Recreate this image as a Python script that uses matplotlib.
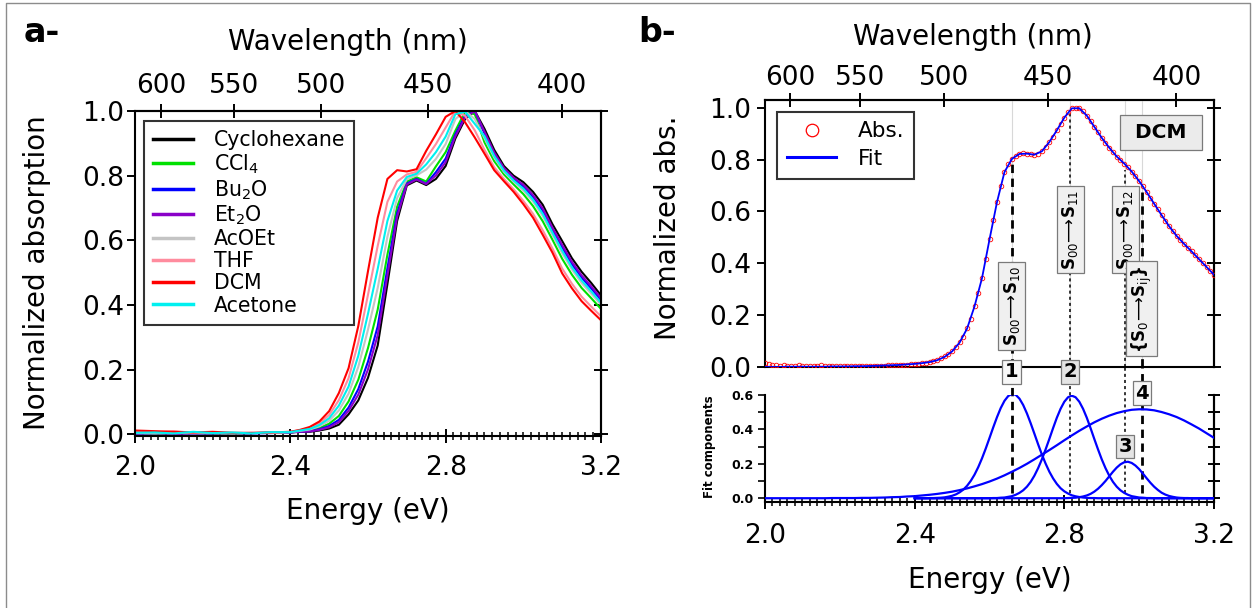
import numpy as np
import matplotlib.pyplot as plt
from matplotlib.ticker import MultipleLocator
from matplotlib.lines import Line2D

plt.rcParams['font.family'] = 'DejaVu Sans'
plt.rcParams['mathtext.fontset'] = 'dejavusans'

# ---------------- panel a : solvatochromism ----------------
energy_a = [2.00, 2.05, 2.10, 2.15, 2.20, 2.25, 2.30, 2.35,
            2.400, 2.425, 2.450, 2.475, 2.500, 2.525, 2.550, 2.575, 2.600, 2.625,
            2.650, 2.675, 2.700, 2.725, 2.750, 2.775, 2.800, 2.825, 2.850, 2.875,
            2.900, 2.925, 2.950, 2.975, 3.000, 3.025, 3.050, 3.075, 3.100, 3.125,
            3.150, 3.175, 3.200]

cyclohexane = [0.004, 0.003, 0.004, 0.003, 0.003, 0.004, 0.004, 0.005,
               0.006, 0.008, 0.008, 0.012, 0.018, 0.030, 0.062, 0.105, 0.175, 0.275,
               0.465, 0.660, 0.770, 0.785, 0.771, 0.790, 0.830, 0.915, 0.975, 1.000,
               0.945, 0.880, 0.830, 0.800, 0.780, 0.750, 0.710, 0.650, 0.598, 0.545,
               0.503, 0.468, 0.430]
ccl4 = [0.003, 0.002, 0.003, 0.004, 0.003, 0.002, 0.004, 0.005,
        0.006, 0.010, 0.012, 0.020, 0.033, 0.057, 0.102, 0.169, 0.267, 0.386,
        0.556, 0.704, 0.782, 0.795, 0.782, 0.829, 0.873, 0.939, 0.998, 0.990,
        0.903, 0.845, 0.804, 0.773, 0.743, 0.706, 0.659, 0.602, 0.543, 0.494,
        0.453, 0.421, 0.388]
bu2o = [0.002, 0.003, 0.004, 0.002, 0.003, 0.004, 0.003, 0.004,
        0.006, 0.009, 0.010, 0.016, 0.026, 0.045, 0.083, 0.140, 0.225, 0.334,
        0.514, 0.684, 0.776, 0.790, 0.775, 0.811, 0.853, 0.928, 0.985, 1.000,
        0.930, 0.867, 0.821, 0.790, 0.766, 0.734, 0.691, 0.632, 0.578, 0.526,
        0.485, 0.451, 0.415]
et2o = [0.003, 0.004, 0.002, 0.003, 0.004, 0.003, 0.004, 0.005,
        0.006, 0.008, 0.009, 0.014, 0.022, 0.038, 0.073, 0.123, 0.201, 0.307,
        0.491, 0.673, 0.773, 0.788, 0.774, 0.801, 0.842, 0.922, 0.980, 1.000,
        0.936, 0.872, 0.824, 0.794, 0.772, 0.740, 0.699, 0.639, 0.586, 0.534,
        0.492, 0.458, 0.421]
acoet = [0.004, 0.003, 0.005, 0.003, 0.004, 0.003, 0.005, 0.004,
         0.007, 0.011, 0.015, 0.025, 0.042, 0.074, 0.126, 0.209, 0.324, 0.453,
         0.611, 0.731, 0.789, 0.801, 0.819, 0.852, 0.898, 0.975, 1.000, 0.975,
         0.916, 0.856, 0.812, 0.781, 0.754, 0.720, 0.675, 0.617, 0.560, 0.510,
         0.468, 0.435, 0.401]
thf = [0.008, 0.006, 0.010, 0.005, 0.007, 0.004, 0.006, 0.005,
       0.008, 0.013, 0.020, 0.034, 0.060, 0.106, 0.174, 0.284, 0.432, 0.583,
       0.719, 0.782, 0.804, 0.812, 0.854, 0.898, 0.949, 1.000, 0.985, 0.940,
       0.880, 0.826, 0.790, 0.758, 0.722, 0.682, 0.631, 0.575, 0.513, 0.466,
       0.426, 0.395, 0.365]
dcm = [0.012, 0.010, 0.008, 0.006, 0.008, 0.005, 0.004, 0.006,
       0.008, 0.014, 0.023, 0.040, 0.072, 0.128, 0.205, 0.335, 0.505, 0.670,
       0.790, 0.817, 0.813, 0.820, 0.877, 0.928, 0.982, 1.000, 0.965, 0.918,
       0.868, 0.817, 0.783, 0.750, 0.712, 0.670, 0.617, 0.562, 0.498, 0.452,
       0.412, 0.382, 0.353]
acetone = [0.005, 0.006, 0.003, 0.008, 0.004, 0.006, 0.003, 0.007,
           0.007, 0.012, 0.017, 0.029, 0.050, 0.089, 0.148, 0.243, 0.373, 0.512,
           0.660, 0.754, 0.796, 0.806, 0.835, 0.873, 0.921, 0.990, 0.998, 0.960,
           0.922, 0.861, 0.816, 0.785, 0.760, 0.726, 0.682, 0.624, 0.568, 0.517,
           0.476, 0.442, 0.407]

solvent_names = ['Cyclohexane', 'CCl$_4$', 'Bu$_2$O', 'Et$_2$O', 'AcOEt', 'THF', 'DCM', 'Acetone']
solvent_values = [cyclohexane, ccl4, bu2o, et2o, acoet, thf, dcm, acetone]
solvent_colors = ['#000000', '#00e000', '#0000ff', '#8a00c8', '#c4c4c4', '#ff8c9e', '#ff0000', '#00f0f0']

# ---------------- panel b : DCM spectrum and fit ----------------
abs_energy = np.linspace(2.0, 3.2, 121)
abs_values = [0.014, 0.011, 0.008, 0.006, 0.005, 0.006, 0.005, 0.004, 0.005, 0.006,
              0.005, 0.004, 0.005, 0.004, 0.005, 0.006, 0.005, 0.004, 0.004, 0.005,
              0.005, 0.004, 0.005, 0.004, 0.003, 0.004, 0.005, 0.004, 0.003, 0.004,
              0.004, 0.005, 0.005, 0.006, 0.006, 0.007, 0.007, 0.008, 0.009, 0.010,
              0.011, 0.012, 0.014, 0.016, 0.019, 0.022, 0.027, 0.033, 0.041, 0.051,
              0.062, 0.077, 0.095, 0.116, 0.149, 0.187, 0.236, 0.285, 0.342, 0.417,
              0.493, 0.568, 0.636, 0.700, 0.752, 0.785, 0.802, 0.814, 0.822, 0.825,
              0.823, 0.820, 0.819, 0.822, 0.832, 0.848, 0.868, 0.889, 0.913, 0.938,
              0.962, 0.984, 0.998, 1.000, 0.998, 0.989, 0.970, 0.949, 0.927, 0.905,
              0.884, 0.865, 0.846, 0.828, 0.812, 0.798, 0.785, 0.771, 0.754, 0.737,
              0.717, 0.697, 0.675, 0.653, 0.630, 0.608, 0.586, 0.564, 0.543, 0.524,
              0.506, 0.490, 0.475, 0.460, 0.446, 0.431, 0.416, 0.401, 0.386, 0.371,
              0.356]

fit_energy = np.linspace(2.0, 3.2, 61)
fit_values = [0.000, 0.000, 0.000, 0.001, 0.001, 0.001, 0.001, 0.001, 0.001, 0.002,
              0.002, 0.002, 0.003, 0.003, 0.004, 0.005, 0.006, 0.007, 0.008, 0.010,
              0.012, 0.015, 0.019, 0.026, 0.039, 0.060, 0.094, 0.148, 0.234, 0.343,
              0.492, 0.636, 0.752, 0.803, 0.822, 0.823, 0.819, 0.832, 0.868, 0.913,
              0.962, 0.998, 0.998, 0.970, 0.927, 0.884, 0.846, 0.812, 0.785, 0.754,
              0.717, 0.675, 0.630, 0.586, 0.543, 0.506, 0.475, 0.446, 0.416, 0.386,
              0.356]

comp_energy = np.linspace(2.4, 3.2, 81)
comp1 = [0.000, 0.000, 0.000, 0.000, 0.001, 0.001, 0.002, 0.003, 0.005, 0.009,
         0.014, 0.022, 0.034, 0.050, 0.072, 0.101, 0.137, 0.181, 0.232, 0.289,
         0.350, 0.412, 0.471, 0.524, 0.566, 0.594, 0.606, 0.601, 0.579, 0.542,
         0.493, 0.436, 0.375, 0.313, 0.254, 0.201, 0.154, 0.115, 0.083, 0.058,
         0.040, 0.027, 0.017, 0.011, 0.007, 0.004, 0.002, 0.001, 0.001, 0.000,
         0.000, 0.000, 0.000, 0.000, 0.000, 0.000, 0.000, 0.000, 0.000, 0.000,
         0.000, 0.000, 0.000, 0.000, 0.000, 0.000, 0.000, 0.000, 0.000, 0.000,
         0.000, 0.000, 0.000, 0.000, 0.000, 0.000, 0.000, 0.000, 0.000, 0.000,
         0.000]
comp2 = [0.000, 0.000, 0.000, 0.000, 0.000, 0.000, 0.000, 0.000, 0.000, 0.000,
         0.000, 0.000, 0.000, 0.000, 0.000, 0.000, 0.000, 0.000, 0.000, 0.000,
         0.000, 0.001, 0.001, 0.003, 0.004, 0.008, 0.012, 0.020, 0.031, 0.046,
         0.067, 0.095, 0.131, 0.175, 0.226, 0.284, 0.345, 0.408, 0.468, 0.520,
         0.561, 0.587, 0.596, 0.587, 0.561, 0.520, 0.468, 0.408, 0.345, 0.284,
         0.226, 0.175, 0.131, 0.095, 0.067, 0.046, 0.031, 0.020, 0.012, 0.008,
         0.004, 0.003, 0.001, 0.001, 0.000, 0.000, 0.000, 0.000, 0.000, 0.000,
         0.000, 0.000, 0.000, 0.000, 0.000, 0.000, 0.000, 0.000, 0.000, 0.000,
         0.000]
comp3 = [0.000, 0.000, 0.000, 0.000, 0.000, 0.000, 0.000, 0.000, 0.000, 0.000,
         0.000, 0.000, 0.000, 0.000, 0.000, 0.000, 0.000, 0.000, 0.000, 0.000,
         0.000, 0.000, 0.000, 0.000, 0.000, 0.000, 0.000, 0.000, 0.000, 0.000,
         0.000, 0.000, 0.000, 0.000, 0.000, 0.000, 0.000, 0.000, 0.000, 0.000,
         0.000, 0.001, 0.002, 0.003, 0.006, 0.010, 0.016, 0.025, 0.038, 0.055,
         0.076, 0.100, 0.127, 0.154, 0.178, 0.197, 0.209, 0.212, 0.205, 0.190,
         0.169, 0.143, 0.116, 0.090, 0.067, 0.048, 0.032, 0.021, 0.013, 0.008,
         0.004, 0.002, 0.001, 0.001, 0.000, 0.000, 0.000, 0.000, 0.000, 0.000,
         0.000]
comp4_energy = np.linspace(2.0, 3.2, 61)
comp4 = [0.000, 0.000, 0.000, 0.000, 0.000, 0.000, 0.000, 0.000, 0.000, 0.001,
         0.001, 0.001, 0.001, 0.002, 0.002, 0.003, 0.004, 0.006, 0.007, 0.010,
         0.012, 0.016, 0.020, 0.025, 0.031, 0.038, 0.047, 0.057, 0.069, 0.082,
         0.097, 0.114, 0.133, 0.154, 0.176, 0.200, 0.226, 0.253, 0.280, 0.308,
         0.337, 0.365, 0.392, 0.417, 0.441, 0.462, 0.480, 0.495, 0.506, 0.514,
         0.517, 0.516, 0.511, 0.501, 0.488, 0.472, 0.452, 0.429, 0.405, 0.378,
         0.351]

# transitions: position, top of marker line in upper panel, rotated label, label height
trans_energy = [2.659, 2.816, 2.963, 3.007]
trans_top = [0.79, 0.98, 0.76, 0.70]
trans_labels = [r'$\mathbf{S}_{00}\!\longrightarrow\!\mathbf{S}_{10}$',
                r'$\mathbf{S}_{00}\!\longrightarrow\!\mathbf{S}_{11}$',
                r'$\mathbf{S}_{00}\!\longrightarrow\!\mathbf{S}_{12}$',
                r'$\mathbf{\{S}_{0}\!\longrightarrow\!\mathbf{S}_{\mathrm{ij}}\mathbf{\}}$']
trans_label_y = [0.235, 0.53, 0.53, 0.225]
comp_numbers = ['1', '2', '3', '4']
comp_number_y = [0.734, 0.734, 0.30, 0.61]
comp_number_fc = ['#f7f7f7', '#e4e4e4', '#e4e4e4', '#f7f7f7']

wl_ticks = [600, 550, 500, 450, 400]
W, H = 1253, 608


def rect(l, t, r, b):
    return [l / W, 1 - b / H, (r - l) / W, (b - t) / H]


def ev_nm(x):
    x = np.asarray(x, dtype=float)
    with np.errstate(divide='ignore', invalid='ignore'):
        return 1239.84 / x


def style_energy_axis(ax, pad):
    ax.set_xlim(2.0, 3.2)
    ax.set_xticks([2.0, 2.4, 2.8, 3.2])
    ax.xaxis.set_minor_locator(MultipleLocator(0.02))
    ax.tick_params(axis='x', which='major', direction='inout', length=10, width=1.4,
                   labelsize=19, pad=pad, top=False)
    ax.tick_params(axis='x', which='minor', direction='inout', length=6, width=1.1, top=False)


def add_wavelength_axis(ax, pad):
    sec = ax.secondary_xaxis('top', functions=(ev_nm, ev_nm))
    sec.set_xticks(wl_ticks)
    sec.tick_params(direction='inout', length=10, width=1.4, labelsize=19, pad=pad)
    sec.spines['top'].set_linewidth(1.5)
    return sec


def add_right_ticks(ax, major, minor=None, length=10):
    sec = ax.secondary_yaxis('right')
    sec.set_yticks(major)
    if minor is not None:
        sec.yaxis.set_minor_locator(MultipleLocator(minor))
    sec.tick_params(which='both', direction='inout', length=length, width=1.4, labelright=False)
    sec.spines['right'].set_linewidth(1.5)


fig = plt.figure(figsize=(W / 100, H / 100), dpi=100)

# ---------- panel a ----------
ax_a = fig.add_axes(rect(135, 111, 601, 436))
for vals, name, col in zip(solvent_values, solvent_names, solvent_colors):
    ax_a.plot(energy_a, vals, color=col, lw=1.5, label=name)
ax_a.set_ylim(-0.005, 1.0)
ax_a.set_yticks([0.0, 0.2, 0.4, 0.6, 0.8, 1.0])
ax_a.set_yticklabels(['0.0', '0.2', '0.4', '0.6', '0.8', '1.0'])
ax_a.tick_params(axis='y', direction='out', length=6, width=1.4, labelsize=19, pad=1.5, right=False)
style_energy_axis(ax_a, pad=8.5)
add_wavelength_axis(ax_a, pad=3.5)
add_right_ticks(ax_a, [0.0, 0.2, 0.4, 0.6, 0.8, 1.0])
for s in ax_a.spines.values():
    s.set_linewidth(1.5)
leg = ax_a.legend(loc='upper left', bbox_to_anchor=(0.019, 0.969), borderaxespad=0,
                  fontsize=14.8, frameon=True, fancybox=False, edgecolor='black',
                  handlelength=1.95, handletextpad=1.0, labelspacing=0.1, borderpad=0.45)
leg.get_frame().set_linewidth(1.5)
for ln in leg.get_lines():
    ln.set_linewidth(2.5)

fig.text(24 / W, 1 - 42 / H, 'a-', fontsize=24, fontweight='bold', ha='left', va='baseline')
fig.text(348 / W, 1 - 50 / H, 'Wavelength (nm)', fontsize=20, ha='center', va='baseline')
fig.text(368 / W, 1 - 519 / H, 'Energy (eV)', fontsize=20, ha='center', va='baseline')
fig.text(37.5 / W, 1 - 273 / H, 'Normalized absorption', fontsize=20, rotation=90,
         ha='center', va='center')

# ---------- panel b, upper ----------
ax_b = fig.add_axes(rect(765, 100, 1214, 367))
for e in trans_energy:
    ax_b.plot([e, e], [0, 1.03], color='#d8d8d8', lw=0.8, zorder=1)
for i, e in enumerate(trans_energy):
    if i in (0, 3):
        ax_b.plot([e, e], [0, trans_top[i]], color='black', lw=2.0, dashes=(3, 2), zorder=2)
    else:
        ax_b.plot([e, e], [0, trans_top[i]], color='black', lw=1.1, dashes=(2, 2), zorder=2)
ax_b.plot(abs_energy, abs_values, 'o', mfc='none', mec='#ff0000', ms=3.3, mew=0.6, zorder=3)
ax_b.plot(fit_energy, fit_values, color='#0000ff', lw=1.3, zorder=4)
for e, lab, y in zip(trans_energy, trans_labels, trans_label_y):
    ax_b.text(e, y, lab, rotation=90, fontsize=12, ha='center', va='center', zorder=6,
              bbox=dict(boxstyle='square,pad=0.2', fc='#f0f0f0', ec='#7a7a7a', lw=0.9))
ax_b.text(3.058, 0.903, ' DCM ', fontsize=14.5, fontweight='bold', ha='center', va='center',
          zorder=6, bbox=dict(boxstyle='square,pad=0.4', fc='#ebebeb', ec='#7a7a7a', lw=0.9))
ax_b.set_xlim(2.0, 3.2)
ax_b.set_ylim(0.0, 1.03)
ax_b.set_yticks([0.0, 0.2, 0.4, 0.6, 0.8, 1.0])
ax_b.set_yticklabels(['0.0', '0.2', '0.4', '0.6', '0.8', '1.0'])
ax_b.tick_params(axis='y', direction='out', length=6, width=1.4, labelsize=19, pad=4, right=False)
ax_b.tick_params(axis='x', which='both', bottom=False, top=False, labelbottom=False)
add_wavelength_axis(ax_b, pad=1.5)
add_right_ticks(ax_b, [0.0, 0.2, 0.4, 0.6, 0.8, 1.0])
for s in ax_b.spines.values():
    s.set_linewidth(1.5)
handles = [Line2D([], [], marker='o', ls='none', mfc='none', mec='#ff0000', ms=9, mew=0.9),
           Line2D([], [], color='#0000ff', lw=2.2)]
leg_b = ax_b.legend(handles, ['Abs.', 'Fit'], loc='upper left', bbox_to_anchor=(0.027, 0.956),
                    borderaxespad=0, fontsize=15.5, fancybox=False, edgecolor='black',
                    handlelength=2.3, handletextpad=1.0, labelspacing=0.35, borderpad=0.45)
leg_b.get_frame().set_linewidth(1.5)

# ---------- panel b, lower (fit components) ----------
ax_c = fig.add_axes(rect(765, 395, 1214, 502))
for i, e in enumerate(trans_energy):
    if i in (0, 3):
        ax_c.plot([e, e], [0.03, 0.76], color='black', lw=2.0, dashes=(3, 2), zorder=2, clip_on=False)
    else:
        ax_c.plot([e, e], [0.03, 0.76], color='black', lw=1.1, dashes=(2, 2), zorder=2, clip_on=False)
ax_c.plot(comp4_energy, comp4, color='#0000ff', lw=1.6, zorder=3)
for comp in (comp1, comp2, comp3):
    ax_c.plot(comp_energy, comp, color='#0000ff', lw=1.6, zorder=3)
for e, num, y, fc in zip(trans_energy, comp_numbers, comp_number_y, comp_number_fc):
    ax_c.text(e, y, num, fontsize=14, fontweight='bold', ha='center', va='center', zorder=6,
              bbox=dict(boxstyle='square,pad=0.12', fc=fc, ec='#7a7a7a', lw=0.9))
ax_c.set_ylim(-0.022, 0.6)
ax_c.set_yticks([0.0, 0.2, 0.4, 0.6])
ax_c.set_yticklabels(['0.0', '0.2', '0.4', '0.6'], fontweight='bold')
ax_c.yaxis.set_minor_locator(MultipleLocator(0.1))
ax_c.tick_params(axis='y', which='both', direction='out', length=5, width=1.2, labelsize=9,
                 pad=3.5, right=False)
style_energy_axis(ax_c, pad=10)
ax_c.spines['top'].set_visible(False)
add_right_ticks(ax_c, [0.0, 0.2, 0.4, 0.6], minor=0.1, length=8)
for s in ax_c.spines.values():
    s.set_linewidth(1.5)

fig.text(638 / W, 1 - 42 / H, 'b-', fontsize=24, fontweight='bold', ha='left', va='baseline')
fig.text(973 / W, 1 - 45 / H, 'Wavelength (nm)', fontsize=20, ha='center', va='baseline')
fig.text(990 / W, 1 - 588 / H, 'Energy (eV)', fontsize=20, ha='center', va='baseline')
fig.text(667.5 / W, 1 - 228 / H, 'Normalized abs.', fontsize=20, rotation=90,
         ha='center', va='center')
fig.text(709 / W, 1 - 447 / H, 'Fit components', fontsize=8.5, fontweight='bold',
         rotation=90, ha='center', va='center')

# thin grey frame around the figure
fig.add_artist(Line2D([6 / W, 6 / W, 1250 / W, 1250 / W], [0, 1 - 3 / H, 1 - 3 / H, 0],
                      transform=fig.transFigure, color='#8c8c8c', lw=1.0))

fig.savefig('out.png', dpi=100)
